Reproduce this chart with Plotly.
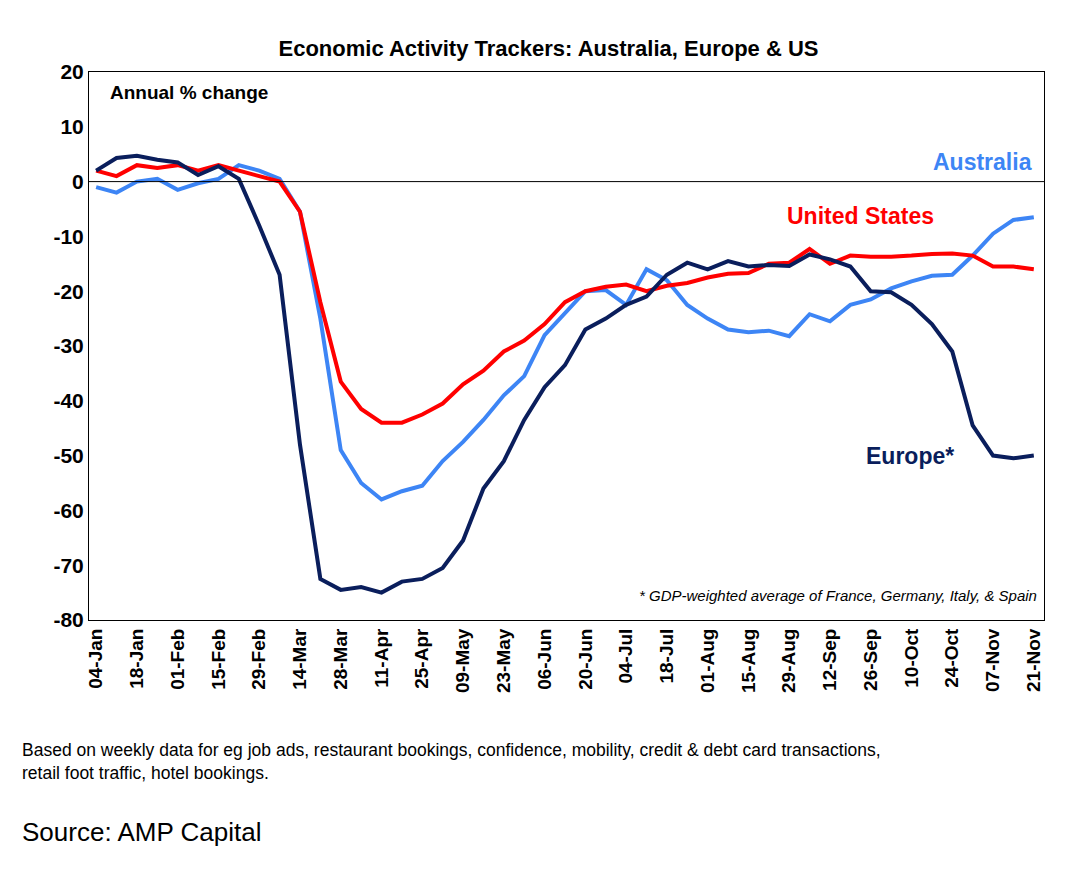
import pandas as pd
import plotly.graph_objects as go

weeks = [d.strftime("%d-%b") for d in pd.date_range("2020-01-04", "2020-11-21", freq="7D")]
tick_labels = weeks[::2]

australia = [-1, -2, 0, 0.5, -1.5, -0.3, 0.5, 3, 2, 0.5, -5.5, -25, -49, -55, -58, -56.5, -55.5, -51, -47.5, -43.5,
             -39, -35.5, -28, -24, -20, -19.8, -22.5, -16, -18, -22.5, -25, -27, -27.5, -27.2, -28.2, -24.2, -25.5,
             -22.5, -21.5, -19.5, -18.2, -17.2, -17, -13.5, -9.5, -7, -6.5]
united_states = [2, 1, 3, 2.5, 3, 2, 3, 2, 1, 0, -5.5, -22, -36.5, -41.5, -44, -44, -42.5, -40.5, -37, -34.5, -31,
                 -29, -26, -22, -20, -19.2, -18.8, -20, -19, -18.5, -17.5, -16.8, -16.7, -15, -14.8, -12.3, -15,
                 -13.5, -13.7, -13.7, -13.5, -13.2, -13.1, -13.5, -15.5, -15.5, -16]
europe = [2, 4.3, 4.7, 4, 3.5, 1.2, 2.8, 0.5, -8, -17, -48, -72.5, -74.5, -74, -75, -73, -72.5, -70.5, -65.5, -56,
          -51, -43.5, -37.5, -33.5, -27, -25, -22.5, -21, -17, -14.8, -16, -14.5, -15.5, -15.2, -15.4, -13.3, -14.2,
          -15.5, -20, -20.2, -22.5, -26, -31, -44.5, -50, -50.5, -50]

F = "Liberation Sans, Arial"
fig = go.Figure()
for name, vals, col in [("Australia", australia, "#3d85f5"), ("United States", united_states, "#ff0000"),
                        ("Europe*", europe, "#0a1e5c")]:
    fig.add_trace(go.Scatter(x=list(range(len(weeks))), y=vals, mode="lines", name=name,
                             line=dict(color=col, width=4)))

fig.add_hline(y=0, line=dict(color="black", width=1))

fig.update_layout(
    width=1081, height=869, paper_bgcolor="white", plot_bgcolor="white", showlegend=False,
    margin=dict(l=81, r=45, t=64, b=257),
    font=dict(family=F, color="black"),
    title=dict(text="<b>Economic Activity Trackers: Australia, Europe & US</b>", x=0.5, xanchor="center",
               y=0.962, font=dict(size=22)),
    xaxis=dict(range=[-0.35, 46.5], tickvals=list(range(0, len(weeks), 2)),
               ticktext=[f"<b>{t}</b>" for t in tick_labels],
               tickangle=-90, tickfont=dict(size=19, family=F), showline=True, linecolor="black", mirror=True,
               showgrid=False, ticks=""),
    yaxis=dict(range=[-80, 20], dtick=10, tickfont=dict(size=21, family=F), showline=True, linecolor="black",
               mirror=True, showgrid=False, zeroline=False, ticks="",
               tickvals=list(range(-80, 21, 10)), ticktext=[f"<b>{v}</b>" for v in range(-80, 21, 10)]),
)
anns = [
    dict(x=0.02, y=0.985, xref="paper", yref="paper", text="<b>Annual % change</b>", font=dict(size=19), xanchor="left", yanchor="top"),
    dict(x=46, y=3.5, text="<b>Australia</b>", font=dict(size=23, color="#3d85f5"), xanchor="right"),
    dict(x=37.5, y=-6.2, text="<b>United States</b>", font=dict(size=23, color="#ff0000"), xanchor="center"),
    dict(x=42.2, y=-50, text="<b>Europe*</b>", font=dict(size=23, color="#0a1e5c"), xanchor="right"),
    dict(x=0.995, y=0.025, xref="paper", yref="paper", text="<i>* GDP-weighted average of France, Germany, Italy, & Spain</i>",
         font=dict(size=15), xanchor="right", yanchor="bottom"),
    dict(x=-0.072, y=-0.215, xref="paper", yref="paper", align="left",
         text="Based on weekly data for eg job ads, restaurant bookings, confidence, mobility, credit & debt card transactions,<br>retail foot traffic, hotel bookings.",
         font=dict(size=17.5), xanchor="left", yanchor="top"),
    dict(x=-0.072, y=-0.355, xref="paper", yref="paper", text="Source: AMP Capital",
         font=dict(size=26), xanchor="left", yanchor="top"),
]
for a in anns:
    a.setdefault("showarrow", False)
    fig.add_annotation(**a)
fig.write_html("out.html")
